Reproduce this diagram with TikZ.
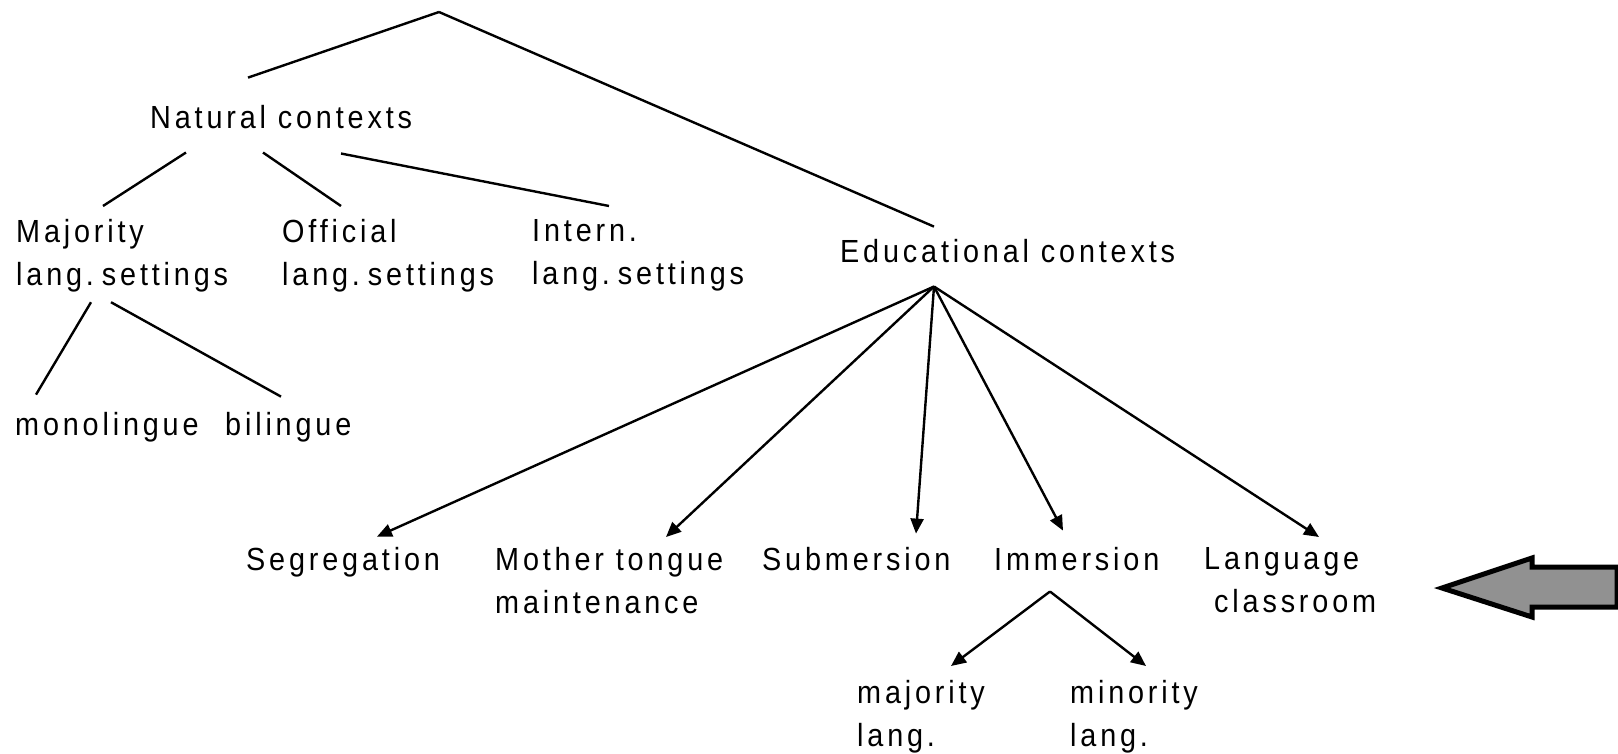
\documentclass[tikz,border=0pt]{standalone}
\usepackage{fontspec}
\setmainfont{Liberation Sans}[FakeStretch=0.9,LetterSpace=12]
\usetikzlibrary{arrows.meta, calc, positioning}
\definecolor{arrowgray}{HTML}{919191}
\newcommand{\tightsp}{\spaceskip=4pt\relax}

\begin{document}
\begin{tikzpicture}[x=1pt, y=-1pt,
  txt/.style={inner sep=0pt, font=\fontsize{32}{43}\selectfont, align=left},
  line/.style={line width=2.4pt},
  arr/.style={line width=2.4pt, -{Triangle[length=15pt,width=13pt]}}]

  \useasboundingbox (0,0) rectangle (1618,754);
  \coordinate (root) at (439,12);

  \node[txt, anchor=base west] (nat) at (150,129) {Natural contexts};
  \node[txt, anchor=north west] (maj) at (16,219) {Majority\\{\tightsp lang. settings}};
  \node[txt, anchor=north west] (off) at (282,219) {Official\\{\tightsp lang. settings}};
  \node[txt, anchor=north west] (int) at (532,219) {Intern.\\{\tightsp lang. settings}};
  \node[txt, anchor=base west] (edu) at (840,263) {Educational contexts};
  \node[txt, anchor=base west] (mono) at (15,435) {monolingue};
  \node[txt, anchor=base west] (bil) at (225,435) {bilingue};

  \node[txt, anchor=base west] (seg) at (246,570) {Segregation};
  \node[txt, anchor=north west] (mot) at (495,547) {Mother tongue\\maintenance};
  \node[txt, anchor=base west] (sub) at (762,570) {Submersion};
  \node[txt, anchor=base west] (imm) at (994,570) {Immersion};
  \node[txt, anchor=north west] (lan) at (1204,547) {Language\\\hspace*{10pt}classroom};
  \node[txt, anchor=north west] (majl) at (857,680) {majority\\lang.};
  \node[txt, anchor=north west] (minl) at (1070,680) {minority\\lang.};

  % natural contexts branch
  \draw[line] (root) -- ($(nat.north west)+(98,-28)$);
  \draw[line] (root) -- ($(edu.north west)+(94,-13)$);
  \draw[line] ($(nat.south west)+(36,23)$) -- ($(maj.north west)+(87,-13)$);
  \draw[line] ($(nat.south west)+(113,23)$) -- ($(off.north west)+(59,-13)$);
  \draw[line] ($(nat.south west)+(191,24)$) -- ($(int.north west)+(77,-13)$);
  \draw[line] ($(maj.south west)+(75,10)$) -- ($(mono.north west)+(21,-17)$);
  \draw[line] ($(maj.south west)+(95,10)$) -- ($(bil.north west)+(56,-15)$);

  % educational contexts branch
  \coordinate (eduhub) at ($(edu.south west)+(94,23)$);
  \foreach \n/\dx/\dy in {seg/131/-10, mot/171/-10, sub/154/-13, imm/69/-16, lan/115/-10}
    \draw[arr] (eduhub) -- ($(\n.north west)+(\dx,\dy)$);

  \coordinate (immhub) at ($(imm.south west)+(56,21)$);
  \draw[arr] (immhub) -- ($(majl.north west)+(94,-14)$);
  \draw[arr] (immhub) -- ($(minl.north west)+(76,-14)$);

  % pointer arrow
  \draw[line width=5pt, line join=miter, fill=arrowgray]
    (1617,567) -- (1532,567) -- (1532,558) -- (1442,588) -- (1532,617) -- (1532,607) -- (1617,607) -- cycle;
\end{tikzpicture}
\end{document}
